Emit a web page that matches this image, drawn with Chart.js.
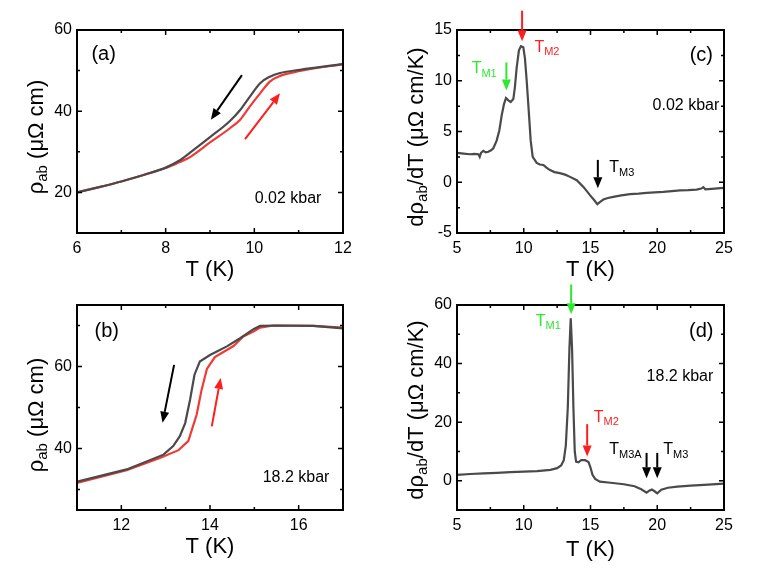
<!DOCTYPE html>
<html lang="en">
<head>
<meta charset="UTF-8">
<title>rho_ab(T) and d rho/dT</title>
<style>
  body { margin: 0; background: #fff; }
  #fig { position: relative; width: 763px; height: 583px; }
  #fig canvas { position: absolute; }
</style>
</head>
<body>
<div id="fig">
  <canvas id="chA" width="380" height="290" style="left:0;top:0"></canvas>
  <canvas id="chC" width="383" height="290" style="left:380px;top:0"></canvas>
  <canvas id="chB" width="380" height="293" style="left:0;top:290px"></canvas>
  <canvas id="chD" width="383" height="303" style="left:380px;top:280px"></canvas>
</div>

<script src="https://cdn.jsdelivr.net/npm/chart.js"></script>
<script>
const FONT = '"Liberation Sans", Arial, Helvetica, sans-serif';
const GRAY = '#4a4a4a', RED = '#f03a36', ARED = '#ff1e1e', GREEN = '#2ee82e';

// (a) 0.02 kbar, cooling (black) and warming (red)
const aTcool = [6, 6.5, 7, 7.5, 8, 8.3, 8.55, 9.0, 9.45, 9.68, 9.9, 10.13, 10.35, 10.58, 11.03, 12];
const aRcool = [20, 21.3, 22.7, 24.3, 26.1, 27.8, 29.8, 33.6, 37.6, 40.3, 43.6, 46.9, 48.5, 49.4, 50.2, 51.6];
const aTwarm = [6, 6.5, 7, 7.5, 8, 8.3, 8.55, 9.0, 9.45, 9.68, 9.9, 10.13, 10.35, 10.58, 11.03, 12];
const aRwarm = [20, 21.3, 22.7, 24.3, 26.0, 27.4, 28.7, 32.3, 35.8, 37.9, 41.2, 44.4, 47.3, 48.7, 49.9, 51.6];

// (b) 18.2 kbar
const bTcool = [11, 12.12, 12.95, 13.17, 13.32, 13.44, 13.55, 13.65, 13.77, 14.0, 14.38, 14.68, 14.98, 15.13, 15.5, 16.33, 17];
const bRcool = [31.9, 34.9, 38.5, 40.6, 43.0, 46.2, 51.9, 58.0, 61.2, 62.8, 64.9, 66.9, 69.1, 69.9, 70.0, 69.9, 69.3];
const bTwarm = [11, 12.12, 12.87, 13.29, 13.51, 13.7, 13.81, 13.93, 14.11, 14.53, 14.75, 14.98, 15.13, 15.43, 16.33, 17];
const bRwarm = [31.6, 34.7, 37.7, 39.6, 41.8, 48.3, 54.3, 59.4, 62.3, 65.0, 67.3, 68.5, 69.5, 70.0, 69.9, 69.5];

// (c) derivative, 0.02 kbar
const cT = [5, 5.5, 5.97, 6.3, 6.6, 6.7, 6.8, 6.97, 7.15, 7.35, 7.55, 7.72, 7.97, 8.17, 8.35, 8.52, 8.67, 8.85, 9.02,
            9.22, 9.34, 9.47, 9.64, 9.79, 9.97, 10.09, 10.22, 10.37, 10.52, 10.67, 10.97, 11.2, 11.47, 11.7, 11.97,
            12.3, 12.7, 13.1, 13.47, 13.97, 14.47, 14.96, 15.3, 15.51, 15.7, 15.96, 16.3, 16.71, 17.3, 17.96, 18.6,
            19.2, 19.8, 20.45, 21.1, 21.7, 22.3, 22.95, 23.3, 23.45, 23.6, 24.3, 24.97];
const cD = [2.89, 2.82, 2.76, 2.8, 2.76, 2.5, 2.9, 3.1, 2.95, 3.0, 3.15, 3.35, 4.1, 5.1, 6.6, 7.7, 8.3, 8.07, 7.9,
            8.2, 9.4, 11.3, 13.0, 13.4, 13.3, 12.2, 10.0, 7.1, 4.1, 2.5, 1.9, 1.75, 1.7, 1.45, 1.2,
            1.0, 0.9, 0.75, 0.53, 0.2, -0.46, -1.27, -1.8, -2.16, -1.95, -1.7, -1.55, -1.44, -1.3, -1.17, -1.12,
            -1.05, -1.0, -0.95, -0.88, -0.8, -0.78, -0.72, -0.62, -0.48, -0.7, -0.62, -0.55];

// (d) derivative, 18.2 kbar
const dT = [5, 6, 7, 8, 9, 10, 11, 12, 12.5, 12.8, 13.0, 13.15, 13.3, 13.42, 13.52, 13.62, 13.72, 13.82, 13.92,
            14.1, 14.3, 14.6, 14.85, 15.0, 15.15, 15.35, 15.7, 16.5, 17.5, 18.3, 18.8, 19.2, 19.4, 19.6, 19.8,
            20.0, 20.3, 20.8, 21.5, 22.5, 23.5, 25];
const dD = [2.0, 2.3, 2.5, 2.7, 2.9, 3.1, 3.3, 3.7, 4.3, 5.2, 7.0, 12.0, 25.0, 45.0, 55.5, 45.0, 25.0, 10.0, 6.5,
            6.3, 7.0, 7.0, 6.4, 4.5, 2.0, 0.6, -0.3, -0.7, -1.2, -1.9, -2.9, -4.1, -3.4, -3.0, -3.6,
            -4.3, -3.1, -2.4, -2.0, -1.7, -1.4, -1.0];

// tick values
const aXTicks = [6, 8, 10, 12], aXMinor = [7, 9, 11];
const aYTicks = [20, 40, 60], aYMinor = [10, 30, 50];
const bXTicks = [12, 14, 16], bXMinor = [11, 13, 15, 17];
const bYTicks = [40, 60], bYMinor = [30, 50, 70];
const cXTicks = [5, 10, 15, 20, 25], cXMinor = [7.5, 12.5, 17.5, 22.5];
const cYTicks = [-5, 0, 5, 10, 15], cYMinor = [-2.5, 2.5, 7.5, 12.5];
const dYTicks = [0, 20, 40, 60], dYMinor = [10, 30, 50];

const pts = (xs, ys) => xs.map((x, i) => ({x: x, y: ys[i]}));
const sub = (m, s, color) => ({parts: [[m, 16, 0], [s, 11, 5]], color: color});

function drawParts(ctx, x, y, parts, color, align) {
    let w = 0;
    parts.forEach(p => { ctx.font = p[1] + 'px ' + FONT; w += ctx.measureText(p[0]).width; });
    let cx = align === 'center' ? x - w / 2 : x;
    ctx.fillStyle = color;
    ctx.textBaseline = 'middle';
    ctx.textAlign = 'left';
    parts.forEach(p => {
        ctx.font = p[1] + 'px ' + FONT;
        ctx.fillText(p[0], cx, y + p[2]);
        cx += ctx.measureText(p[0]).width;
    });
}

function arrow(ctx, x1, y1, x2, y2, color) {
    const a = Math.atan2(y2 - y1, x2 - x1), L = 11, W = 4.5;
    const bx = x2 - L * Math.cos(a), by = y2 - L * Math.sin(a);
    ctx.strokeStyle = color; ctx.fillStyle = color; ctx.lineWidth = 2;
    ctx.beginPath(); ctx.moveTo(x1, y1); ctx.lineTo(bx, by); ctx.stroke();
    ctx.beginPath();
    ctx.moveTo(x2, y2);
    ctx.lineTo(bx + W * Math.sin(a), by - W * Math.cos(a));
    ctx.lineTo(bx - W * Math.sin(a), by + W * Math.cos(a));
    ctx.closePath(); ctx.fill();
}

// frame, inward ticks, titles and annotations
function deco(cfg) {
    return {
        id: 'deco',
        afterDraw(chart) {
            const {ctx, chartArea: ca, scales: {x, y}} = chart;
            ctx.save();
            ctx.strokeStyle = '#000'; ctx.lineWidth = 1.5;
            const tick = (vals, len, isX) => vals.forEach(v => {
                ctx.beginPath();
                if (isX) {
                    const px = x.getPixelForValue(v);
                    ctx.moveTo(px, ca.bottom); ctx.lineTo(px, ca.bottom - len);
                    ctx.moveTo(px, ca.top); ctx.lineTo(px, ca.top + len);
                } else {
                    const py = y.getPixelForValue(v);
                    ctx.moveTo(ca.left, py); ctx.lineTo(ca.left + len, py);
                    ctx.moveTo(ca.right, py); ctx.lineTo(ca.right - len, py);
                }
                ctx.stroke();
            });
            tick(cfg.xMaj, 5, true); tick(cfg.xMin, 3, true);
            tick(cfg.yMaj, 5, false); tick(cfg.yMin, 3, false);
            ctx.lineWidth = 2;
            ctx.strokeRect(ca.left, ca.top, ca.right - ca.left, ca.bottom - ca.top);

            cfg.arrows.forEach(a => arrow(ctx, x.getPixelForValue(a[0]), y.getPixelForValue(a[1]),
                x.getPixelForValue(a[2]), y.getPixelForValue(a[3]), a[4]));
            cfg.texts.forEach(t => drawParts(ctx, x.getPixelForValue(t.x), y.getPixelForValue(t.y),
                t.parts, t.color || '#000', t.align));

            drawParts(ctx, (ca.left + ca.right) / 2, cfg.xTitleY, [['T (K)', 22, 0]], '#000', 'center');
            ctx.translate(37, cfg.yTitleY);
            ctx.rotate(-Math.PI / 2);
            drawParts(ctx, 0, 0, cfg.yTitle, '#000', 'center');
            ctx.restore();
        }
    };
}

function panel(id, c) {
    const tickFont = {family: FONT, size: 16};
    const W = document.getElementById(id).width, H = document.getElementById(id).height;
    new Chart(document.getElementById(id), {
        type: 'line',
        data: {datasets: c.sets.map(s => ({
            data: s.data, borderColor: s.color, borderWidth: 2.2, pointRadius: 0, fill: false,
            cubicInterpolationMode: s.smooth ? 'monotone' : 'default', tension: 0
        }))},
        options: {
            responsive: false, animation: false, events: [],
            layout: {padding: {left: 0, bottom: 0, top: c.box[1], right: W - c.box[2]}},
            plugins: {legend: {display: false}, tooltip: {enabled: false}},
            scales: {
                x: {
                    type: 'linear', min: c.xr[0], max: c.xr[1],
                    afterBuildTicks: s => { s.ticks = c.xMaj.map(v => ({value: v})); },
                    afterFit: s => { s.height = H - c.box[3]; },
                    grid: {display: false, drawTicks: false}, border: {display: false},
                    ticks: {font: tickFont, color: '#000', padding: 6, autoSkip: false, maxRotation: 0}
                },
                y: {
                    type: 'linear', min: c.yr[0], max: c.yr[1],
                    afterBuildTicks: s => { s.ticks = c.yMaj.map(v => ({value: v})); },
                    afterFit: s => { s.width = c.box[0]; },
                    grid: {display: false, drawTicks: false}, border: {display: false},
                    ticks: {font: tickFont, color: '#000', padding: 5}
                }
            }
        },
        plugins: [deco(c)]
    });
}

const rhoTitle = [['ρ', 22, 0], ['ab', 15, 6], [' (μΩ cm)', 22, 0]];
const dTitle = [['dρ', 22, 0], ['ab', 15, 6], ['/dT (μΩ cm/K)', 22, 0]];

panel('chA', {
    box: [77, 30, 343, 233], xr: [6, 12], yr: [10, 60],
    xMaj: aXTicks, xMin: aXMinor, yMaj: aYTicks, yMin: aYMinor,
    sets: [{data: pts(aTcool, aRcool), color: GRAY, smooth: true},
           {data: pts(aTwarm, aRwarm), color: RED, smooth: true}],
    arrows: [[9.72, 48.9, 9.02, 37.9, '#000'], [9.79, 33.1, 10.58, 44.4, ARED]],
    texts: [{x: 6.6, y: 54, parts: [['(a)', 20, 0]], align: 'center'},
            {x: 10.76, y: 18.5, parts: [['0.02 kbar', 16, 0]], align: 'center'}],
    xTitleY: 270, yTitleY: 137, yTitle: rhoTitle
});

panel('chB', {
    box: [77, 15, 343, 220], xr: [11, 17], yr: [25, 75],
    xMaj: bXTicks, xMin: bXMinor, yMaj: bYTicks, yMin: bYMinor,
    sets: [{data: pts(bTcool, bRcool), color: GRAY, smooth: false},
           {data: pts(bTwarm, bRwarm), color: RED, smooth: false}],
    arrows: [[13.19, 60.4, 12.93, 46.3, '#000'], [14.04, 45.4, 14.24, 57.2, ARED]],
    texts: [{x: 11.67, y: 68.5, parts: [['(b)', 20, 0]], align: 'center'},
            {x: 15.94, y: 32.8, parts: [['18.2 kbar', 16, 0]], align: 'center'}],
    xTitleY: 257, yTitleY: 125, yTitle: rhoTitle
});

panel('chC', {
    box: [77, 30, 344, 233], xr: [5, 25], yr: [-5, 15],
    xMaj: cXTicks, xMin: cXMinor, yMaj: cYTicks, yMin: cYMinor,
    sets: [{data: pts(cT, cD), color: GRAY, smooth: false}],
    arrows: [[9.875, 16.9, 9.875, 13.9, ARED], [8.7, 11.8, 8.7, 9.05, GREEN], [15.55, 2.2, 15.55, -0.6, '#000']],
    texts: [{x: 23.3, y: 12.5, parts: [['(c)', 20, 0]], align: 'center'},
            {x: 22.15, y: 7.6, parts: [['0.02 kbar', 16, 0]], align: 'center'},
            Object.assign(sub('T', 'M2', ARED), {x: 10.8, y: 13.3}),
            Object.assign(sub('T', 'M1', GREEN), {x: 6.1, y: 11.2}),
            Object.assign(sub('T', 'M3', '#000'), {x: 16.4, y: 1.4})],
    xTitleY: 270, yTitleY: 137, yTitle: dTitle
});

panel('chD', {
    box: [77, 25, 344, 230], xr: [5, 25], yr: [-10, 60],
    xMaj: cXTicks, xMin: cXMinor, yMaj: dYTicks, yMin: dYMinor,
    sets: [{data: pts(dT, dD), color: GRAY, smooth: false}],
    arrows: [[13.55, 67, 13.55, 56.8, GREEN], [14.75, 19.3, 14.75, 8.3, ARED],
             [19.2, 9.5, 19.2, 0.8, '#000'], [20.0, 9.5, 20.0, 0.8, '#000']],
    texts: [{x: 23.3, y: 51, parts: [['(d)', 20, 0]], align: 'center'},
            {x: 21.7, y: 35.4, parts: [['18.2 kbar', 16, 0]], align: 'center'},
            Object.assign(sub('T', 'M1', GREEN), {x: 10.9, y: 54.5}),
            Object.assign(sub('T', 'M2', ARED), {x: 15.25, y: 21.6}),
            Object.assign(sub('T', 'M3A', '#000'), {x: 16.4, y: 10.6}),
            Object.assign(sub('T', 'M3', '#000'), {x: 20.45, y: 10.6})],
    xTitleY: 270, yTitleY: 130, yTitle: dTitle
});
</script>
</body>
</html>
